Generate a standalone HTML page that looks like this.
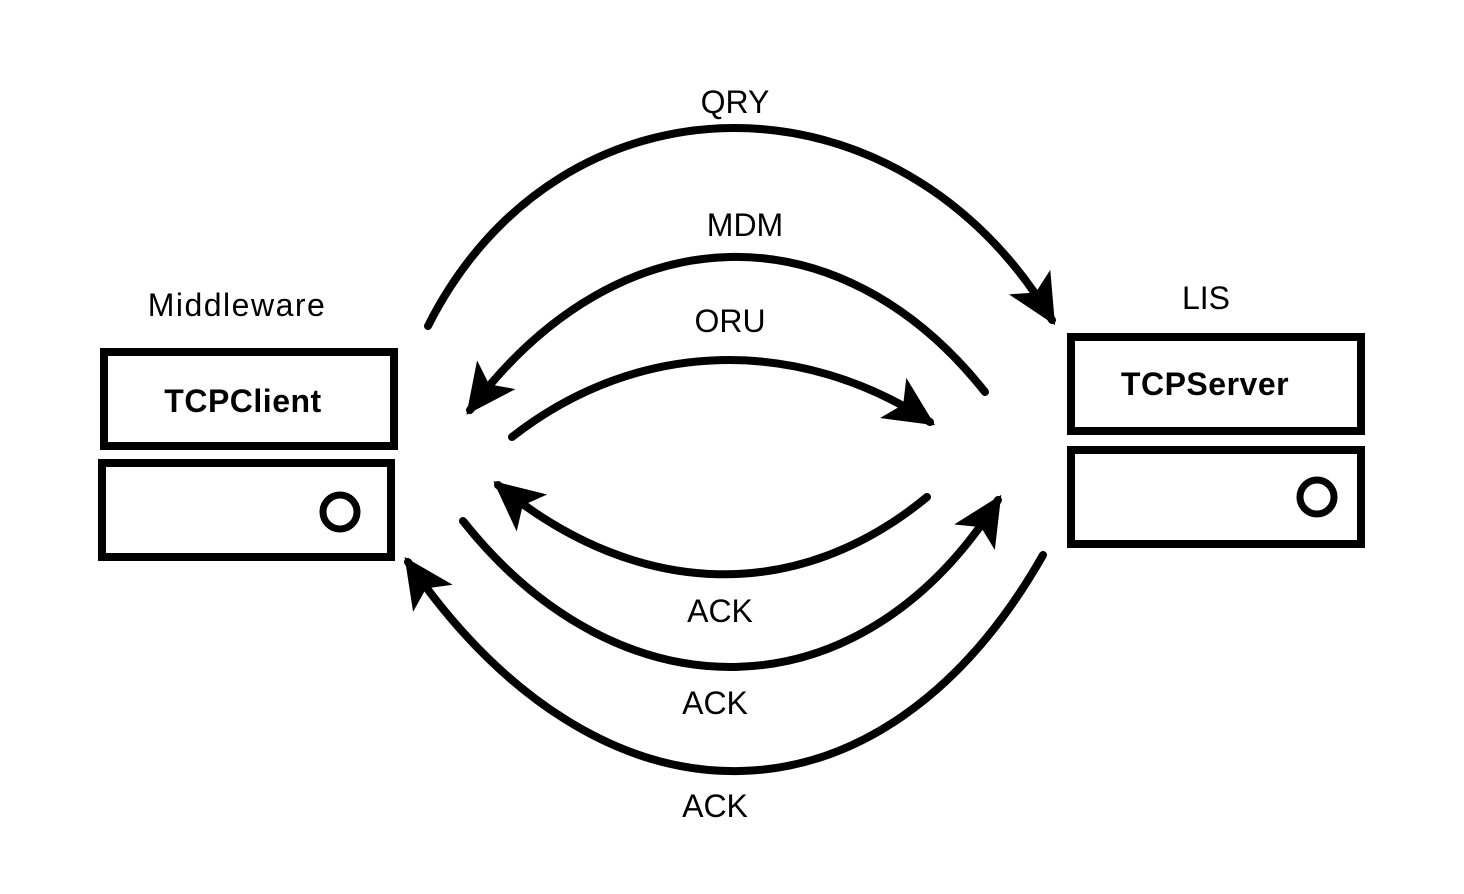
<!DOCTYPE html>
<html><head><meta charset="utf-8"><style>
html,body{margin:0;padding:0;background:#fff;}
svg{display:block}
text{font-family:"Liberation Sans","DejaVu Sans",sans-serif;fill:#000}
</style></head><body>
<svg width="1464" height="894" viewBox="0 0 1464 894" xmlns="http://www.w3.org/2000/svg">
<defs>
<marker id="a" markerUnits="userSpaceOnUse" markerWidth="70" markerHeight="70" refX="44" refY="24" orient="auto">
<path d="M0,0 L50,24 L0,48 L12,24 Z" fill="#000"/>
</marker>
</defs>
<g fill="none" stroke="#000" stroke-width="8">
<rect x="104" y="352" width="290" height="94"/>
<rect x="102" y="463" width="289" height="94"/>
<circle cx="340" cy="512" r="17" stroke-width="7"/>
<rect x="1071" y="337" width="290" height="94"/>
<rect x="1071" y="450" width="290" height="94"/>
<circle cx="1317" cy="497" r="17" stroke-width="7"/>
</g>
<g fill="none" stroke="#000" stroke-width="8" stroke-linecap="round">
<path d="M428,326 C560,63 900,63 1052,320" marker-end="url(#a)"/>
<path d="M985,392 C840,209 620,209 470,410" marker-end="url(#a)"/>
<path d="M512,437 C640,337 800,337 930,422" marker-end="url(#a)"/>
<path d="M927,497 C800,602 640,602 498,485" marker-end="url(#a)"/>
<path d="M463,521 C620,719 860,719 998,500" marker-end="url(#a)"/>
<path d="M1043,555 C880,842 600,842 408,562" marker-end="url(#a)"/>
</g>
<g font-size="32" text-anchor="middle">
<text x="735" y="113">QRY</text>
<text x="745" y="236">MDM</text>
<text x="730" y="332">ORU</text>
<text x="720" y="622">ACK</text>
<text x="715" y="714">ACK</text>
<text x="715" y="817">ACK</text>
<text x="237" y="316" letter-spacing="1.5">Middleware</text>
<text x="1206" y="309">LIS</text>
<text x="243" y="412" font-weight="bold" letter-spacing="0.5">TCPClient</text>
<text x="1205" y="395" font-weight="bold" letter-spacing="0.5">TCPServer</text>
</g>
</svg>
</body></html>
